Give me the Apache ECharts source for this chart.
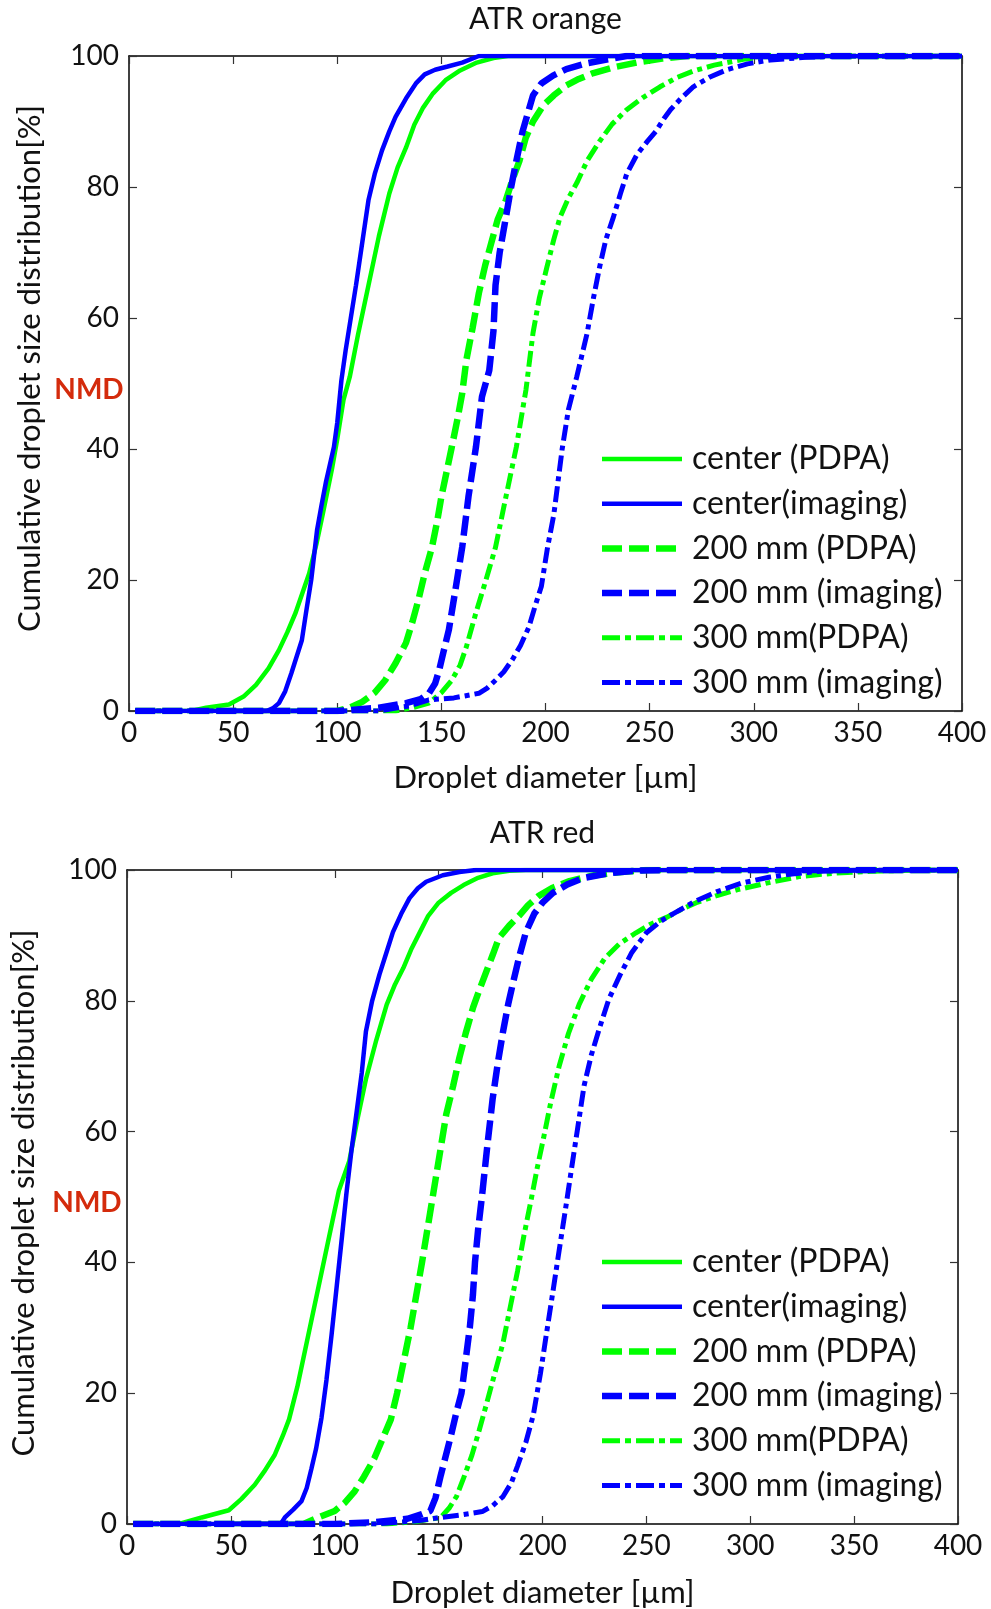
<!DOCTYPE html>
<html>
<head>
<meta charset="utf-8">
<script src="https://cdn.jsdelivr.net/npm/echarts@6/dist/echarts.min.js"></script>
<style>
html,body{margin:0;padding:0;background:#fff;}
#main{width:991px;height:1609px;}
</style>
</head>
<body>
<div id="main"></div>
<script>
// ---------- DATA ----------
const plotTitles = ['ATR orange', 'ATR red'];
const seriesNames = ['center (PDPA)', 'center(imaging)', '200 mm (PDPA)', '200 mm (imaging)', '300 mm(PDPA)', '300 mm (imaging)'];
const xTicks = [0, 50, 100, 150, 200, 250, 300, 350, 400];
const yTicks = [0, 20, 40, 60, 80, 100];

// ATR orange  [diameter µm, cumulative %]
const orangeCenterPDPA = [[3,0],[30,0],[37,0.5],[48,1],[55,2.2],[61,4],[67,6.5],[72,9.3],[76,12],[80,15],[86.5,21],[90,25.5],[93,30],[97.5,37],[100,41.5],[103,47.5],[106,51],[110,57.5],[115,65],[120,72.5],[125,79],[129,83],[133,86],[137,89.5],[141,92],[146,94.3],[152,96.3],[159,97.8],[167,99],[175,99.7],[182,100],[400,100]];
const orangeCenterImg = [[3,0],[66,0],[69,0.4],[72,1.2],[75,3],[78,5.8],[83,10.8],[85,15],[87.5,20],[90.3,27.6],[92.5,31.5],[94.6,35],[98.4,40.3],[100,44],[102,50.5],[104,55],[106.5,60],[109,65],[112,71.5],[115,78],[118,82],[121.5,85.6],[125,88.5],[128,90.7],[133,93.5],[138,95.9],[142,97.2],[147,97.9],[153,98.4],[160,99],[168,100],[400,100]];
const orange200PDPA = [[3,0],[100,0],[106,0.5],[112,1.4],[118,2.8],[123,4.7],[128,7.3],[133,10.4],[136,13.5],[139,17],[142,21],[145.5,25],[148,29],[150,32.7],[155,40.3],[158,45],[160,48.5],[162,53.6],[165,58.5],[168,63.8],[171,68],[174,71.5],[177,75],[181,78],[184,81],[187.5,84],[190.5,87.5],[194,90],[199,92.5],[204,94],[210,95.5],[216,96.5],[223,97.4],[233,98.3],[244,99],[256,99.6],[268,100],[400,100]];
const orange200Img = [[3,0],[100,0],[120,0.5],[133,1.2],[140,1.8],[144,2.7],[147,4.2],[149,6.3],[151,9],[153.6,12.4],[157,19],[160,25],[163,32.7],[166.6,40.3],[169.5,48],[173,52],[175,58],[176,65],[178,70],[181,75.4],[183.5,80],[186,84],[189,88.5],[192,91.8],[194,94],[198,95.8],[203.6,97],[210,98],[220,98.9],[230,99.5],[239,100],[400,100]];
const orange300PDPA = [[3,0],[128,0],[136,0.5],[144,1.2],[150,2.8],[155,4.7],[159,7],[162,9.8],[166.6,15],[171.4,20],[176,25],[181,32.7],[186,40.3],[190.6,49],[194,57.7],[197,63],[200.7,67.8],[204,72],[207,75.4],[211,78.3],[215,80.6],[220,84],[226,87],[232,89.6],[239,91.8],[247,93.7],[255,95.3],[263,96.7],[271,97.7],[281,98.6],[295,99.5],[305,99.8],[316,100],[400,100]];
const orange300Img = [[3,0],[120,0],[135,0.8],[144,1.7],[156,2],[168,2.7],[172,3.5],[176,4.7],[180,6],[184,7.8],[188,10],[192,12.8],[195,16],[198,19],[201,25],[204,30],[206,35],[208,40],[211,46],[215,51],[220,57.7],[223,63],[226,67.8],[229,72],[232.6,75.4],[236,79],[239,82],[244,85],[249,87],[253,88.5],[257,90.5],[260,91.8],[265,93.5],[271,95.3],[279,96.8],[287,97.9],[297,98.8],[308,99.4],[325,99.8],[340,100],[400,100]];

// ATR red
const redCenterPDPA = [[3,0],[25,0],[36,1],[49,2.1],[55,3.8],[61.5,6],[66,8],[71,10.5],[75,13.5],[78,16],[82,21],[86,27],[90,33],[94,39],[98,45],[102,51],[107,55.5],[111,62],[115,68],[120,74],[125,79.4],[129,82.5],[133,85],[137,88],[141,90.5],[145,93],[150,95],[156,96.5],[162,97.7],[169,98.8],[176,99.5],[184,99.9],[192,100],[400,100]];
const redCenterImg = [[3,0],[74,0],[76,1],[80,2.2],[84,3.5],[86.5,5.5],[88.8,8.5],[91,11.5],[93.6,16.2],[96,22],[98.5,29],[101,36.5],[103.5,44],[105.6,50.5],[108,57],[110.4,62.7],[113,69],[115,75.3],[118,80],[121.5,84],[125,87.5],[128,90.5],[132,93.3],[136,95.7],[140,97.2],[144,98.2],[152,99.2],[160,99.7],[168,100],[400,100]];
const red200PDPA = [[3,0],[85,0],[92,1],[100,2],[105,3.3],[109.6,5],[114,7.2],[119,10],[123,13],[127,16],[130,20],[136.5,30],[142,40],[147.4,50.5],[150.5,56.5],[153.7,62.7],[157,67],[160,71.3],[163,75],[166.6,79],[170,82],[173,84.5],[176,87],[179,89.6],[184,91.5],[188.7,93],[193,94.6],[198,96],[205,97.3],[213,98.3],[225,99.2],[238,99.7],[250,100],[400,100]];
const red200Img = [[3,0],[100,0],[120,0.3],[135,0.8],[142,1.5],[146,2],[148.5,4],[151,7.4],[153.5,10.5],[156,13.6],[158.5,17],[161,20],[163,25],[165,30],[166.5,35],[167.5,40],[169,45],[171,50.5],[173.5,58],[176,65],[178.5,70.5],[181,75.3],[183.5,79.5],[186,83],[189,87],[192,90.5],[196,93.3],[200,95],[205,96.5],[212,97.8],[220,98.8],[232,99.5],[245,99.9],[260,100],[400,100]];
const red300PDPA = [[3,0],[125,0],[140,0.4],[151,1],[155,2.4],[158.6,4.2],[162,7],[166,10.5],[169.5,14.3],[173,18.3],[177,23],[181,27.7],[184.5,33.2],[188,38.7],[191,44],[194.6,49.7],[197.5,54.5],[200.5,59],[204,64.5],[208,70],[212.5,75],[217.7,79.5],[223.5,83.3],[230,86.5],[237,88.7],[245,90.4],[252,91.7],[260,92.8],[267,94],[274,95],[284,96.1],[294,97],[308,98],[323.6,99],[340,99.5],[358,99.8],[383,100],[400,100]];
const red300Img = [[3,0],[120,0],[140,0.5],[151,1],[161,1.4],[171,1.9],[176,2.8],[181,4.2],[185,6.3],[188,8.9],[192,12.5],[195.6,16.7],[199,23],[202,29.3],[205,35.5],[208,41.8],[211,48],[214,54.4],[217,60.7],[220,67],[223.5,71.7],[227.6,76],[232,80.3],[237.4,84],[243,87.4],[250,90.4],[257,92.2],[264.5,93.6],[274,95.3],[284,96.7],[296,98],[309,98.9],[320,99.4],[333.5,99.8],[353,100],[400,100]];

const orangeData = [orangeCenterPDPA, orangeCenterImg, orange200PDPA, orange200Img, orange300PDPA, orange300Img];
const redData = [redCenterPDPA, redCenterImg, red200PDPA, red200Img, red300PDPA, red300Img];

// ---------- STYLE ----------
const FONT = 'Lato';
const GREEN = '#00ff00', BLUE = '#0000ff';
const lineStyles = [
  {color: GREEN, width: 4.5, type: 'solid'},
  {color: BLUE, width: 4.5, type: 'solid'},
  {color: GREEN, width: 6.5, type: [20, 7]},
  {color: BLUE, width: 6.5, type: [20, 7]},
  {color: GREEN, width: 5, type: [16, 5, 5, 5]},
  {color: BLUE, width: 5, type: [16, 5, 5, 5]}
];
// legend sample patterns (segment lengths along an 80px sample, and thickness)
const legendPatterns = [
  {t: 4.5, dash: [80]},
  {t: 4.5, dash: [80]},
  {t: 6.5, dash: [20, 7]},
  {t: 6.5, dash: [20, 7]},
  {t: 5, dash: [18, 5, 6, 5]},
  {t: 5, dash: [18, 5, 6, 5]}
];
const ICON_W = 80, ICON_H = 7;
function iconPath(p) {
  const y0 = (ICON_H - p.t) / 2, y1 = y0 + p.t;
  let s = 'path://M0,0h0.01v0.01h-0.01Z M' + (ICON_W - 0.01) + ',' + (ICON_H - 0.01) + 'h0.01v0.01h-0.01Z';
  let x = 0, k = 0;
  while (x < ICON_W - 0.5) {
    const len = p.dash[k % p.dash.length];
    if (k % 2 === 0) {
      const x2 = Math.min(ICON_W, x + len);
      s += ' M' + x + ',' + y0 + 'L' + x2 + ',' + y0 + 'L' + x2 + ',' + y1 + 'L' + x + ',' + y1 + 'Z';
    }
    x += len; k++;
  }
  return s;
}

const grids = [
  {left: 129, top: 56, right: 29, bottom: 898},
  {left: 125, top: 870, right: 33, bottom: 83}
];

const chart = echarts.init(document.getElementById('main'), null, {renderer: 'canvas'});

const axisLine = {show: true, onZero: false, lineStyle: {color: '#000', width: 1.5}};
const tickStyle = {show: true, inside: true, length: 8, lineStyle: {color: '#333', width: 1.2}};
const labelStyle = {fontFamily: FONT, fontSize: 28, color: '#111'};

const xAxis = [], yAxis = [];
grids.forEach((g, i) => {
  xAxis.push({
    type: 'value', gridIndex: i, min: xTicks[0], max: xTicks[xTicks.length - 1], interval: 50,
    position: 'bottom', axisLine, axisTick: tickStyle, splitLine: {show: false},
    axisLabel: Object.assign({margin: 8}, labelStyle),
    name: 'Droplet diameter [µm]', nameLocation: 'middle', nameGap: i === 0 ? 51 : 53,
    nameTextStyle: {fontFamily: FONT, fontSize: 31, color: '#111'}
  });
  xAxis.push({
    type: 'value', gridIndex: i, min: xTicks[0], max: xTicks[xTicks.length - 1], interval: 50,
    position: 'top', axisLine, axisTick: tickStyle, splitLine: {show: false},
    axisLabel: {show: false},
    name: plotTitles[i], nameLocation: 'middle', nameGap: 22,
    nameTextStyle: {fontFamily: FONT, fontSize: 30, color: '#111'}
  });
  yAxis.push({
    type: 'value', gridIndex: i, min: yTicks[0], max: yTicks[yTicks.length - 1], interval: 20,
    position: 'left', axisLine, axisTick: tickStyle, splitLine: {show: false},
    axisLabel: Object.assign({margin: 10}, labelStyle),
    name: 'Cumulative droplet size distribution[%]', nameLocation: 'middle', nameGap: i === 0 ? 84 : 88,
    nameTextStyle: {fontFamily: FONT, fontSize: 31, color: '#111', padding: i === 0 ? [0, 0, 0, 30] : [0, 0, 0, 8]}
  });
  yAxis.push({
    type: 'value', gridIndex: i, min: yTicks[0], max: yTicks[yTicks.length - 1], interval: 20,
    position: 'right', axisLine, axisTick: tickStyle, splitLine: {show: false},
    axisLabel: {show: false}
  });
});

const series = [];
[orangeData, redData].forEach((set, gi) => {
  set.forEach((d, k) => {
    series.push({
      name: seriesNames[k], type: 'line', xAxisIndex: gi * 2, yAxisIndex: gi * 2,
      data: d, showSymbol: false, symbol: 'none', smooth: false,
      lineStyle: lineStyles[k], itemStyle: {color: lineStyles[k].color},
      z: 2 + (k % 2), emphasis: {disabled: true}
    });
  });
});

const legendData = seriesNames.map((n, k) => ({
  name: n, icon: iconPath(legendPatterns[k]),
  itemStyle: {color: lineStyles[k].color, borderWidth: 0}
}));

const legendCommon = {
  orient: 'vertical', left: 602, padding: 0, itemWidth: ICON_W, itemHeight: ICON_H, itemGap: 12.7,
  data: legendData, selectedMode: false,
  itemStyle: {borderWidth: 0},
  textStyle: {fontFamily: FONT, fontSize: 32, color: '#111', lineHeight: 30, padding: [0, 0, 0, 5]}
};

chart.setOption({
  animation: false,
  backgroundColor: '#fff',
  grid: grids,
  xAxis, yAxis, series,
  legend: [
    Object.assign({}, legendCommon, {top: 443}),
    Object.assign({}, legendCommon, {top: 1246})
  ]
});

// NMD annotation placed at the 50 % level of each y axis
const nmdGraphics = grids.map((g, i) => {
  const p = chart.convertToPixel({gridIndex: i}, [0, 50]);
  return {
    type: 'text', x: p[0] - 40, y: p[1] + 6,
    style: {text: 'NMD', fill: '#d42b0c', font: 'bold 28px Lato', textAlign: 'center', textVerticalAlign: 'middle'}
  };
});
chart.setOption({graphic: nmdGraphics});
</script>
</body>
</html>
